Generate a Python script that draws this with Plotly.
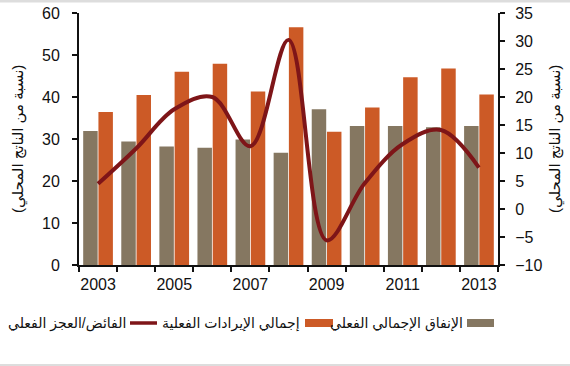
import plotly.graph_objects as go

years = [2003, 2004, 2005, 2006, 2007, 2008, 2009, 2010, 2011, 2012, 2013]
spending = [31.9, 29.4, 28.2, 27.9, 29.9, 26.7, 37.1, 33.1, 33.1, 32.8, 33.1]
revenue = [36.4, 40.5, 46.0, 47.9, 41.3, 56.6, 31.7, 37.5, 44.7, 46.8, 40.6]
balance = [4.5, 10.8, 17.8, 20.0, 11.2, 30.2, -5.6, 4.6, 11.6, 14.1, 7.4]

name_spend = "الإنفاق الإجمالي الفعلي"
name_rev = "إجمالي الإيرادات الفعلية"
name_bal = "الفائض/العجز الفعلي"
axis_title = "(نسبة من الناتج المحلي)"

C_SPEND = "#857761"
C_REV = "#CC5A26"
C_BAL = "#7E1518"
FONT = "Arial, Liberation Sans, DejaVu Sans, sans-serif"

W, H = 570, 366
ML, MR, MT, MB = 79, 72, 13, 101

fig = go.Figure()
fig.add_trace(go.Bar(x=years, y=spending, name=name_spend, marker_color=C_SPEND,
                     marker_line_width=0))
fig.add_trace(go.Bar(x=years, y=revenue, name=name_rev, marker_color=C_REV,
                     marker_line_width=0))
fig.add_trace(go.Scatter(x=years, y=balance, name=name_bal, mode="lines",
                         line=dict(color=C_BAL, width=4, shape="spline", smoothing=1.0),
                         yaxis="y2"))

pw = W - ML - MR
ph = H - MT - MB


def px_x(px):
    return (px - ML) / pw


def px_y(py):
    return (H - MB - py) / ph


shapes = []
annotations = []
# legend (RTL: symbol to the right of its text)
leg_y = 323
items = [
    (name_bal, "line", C_BAL, 130, 157, 128),
    (name_rev, "box", C_REV, 305, 333, 302),
    (name_spend, "box", C_SPEND, 467, 494, 465),
]
for text, kind, col, x0, x1, tx in items:
    if kind == "line":
        shapes.append(dict(type="line", xref="paper", yref="paper",
                           x0=px_x(x0), x1=px_x(x1), y0=px_y(leg_y), y1=px_y(leg_y),
                           line=dict(color=col, width=3.5)))
    else:
        shapes.append(dict(type="rect", xref="paper", yref="paper",
                           x0=px_x(x0), x1=px_x(x1), y0=px_y(leg_y - 4), y1=px_y(leg_y + 4),
                           fillcolor=col, line=dict(width=0)))
    annotations.append(dict(text=text, xref="paper", yref="paper", x=px_x(tx), y=px_y(leg_y),
                            xanchor="right", yanchor="middle", showarrow=False,
                            font=dict(family=FONT, size=14, color="#111")))

# axis titles
for cx in (18, 555):
    annotations.append(dict(text=axis_title, xref="paper", yref="paper",
                            x=px_x(cx), y=0.5, xanchor="center", yanchor="middle",
                            textangle=-90, showarrow=False,
                            font=dict(family=FONT, size=15, color="#111")))

# light frame lines at top/bottom of picture
shapes.append(dict(type="line", xref="paper", yref="paper", x0=px_x(0), x1=px_x(W),
                   y0=px_y(1), y1=px_y(1), line=dict(color="#dddddd", width=3)))
shapes.append(dict(type="line", xref="paper", yref="paper", x0=px_x(0), x1=px_x(W),
                   y0=px_y(365), y1=px_y(365), line=dict(color="#dddddd", width=2)))

fig.update_layout(
    width=W, height=H,
    margin=dict(l=ML, r=MR, t=MT, b=MB),
    paper_bgcolor="white", plot_bgcolor="white",
    barmode="group", bargap=0.2, bargroupgap=0.05,
    showlegend=False,
    font=dict(family=FONT, size=16, color="#111"),
    xaxis=dict(
        range=[2002.5, 2013.5], tickmode="linear", tick0=2003, dtick=2,
        ticks="", showline=True, linecolor="#111", linewidth=2,
        showgrid=False, zeroline=False, automargin=False,
        tickfont=dict(size=16), ticklabelstandoff=4,
        minor=dict(ticks="outside", tickmode="linear", tick0=2002.5, dtick=1,
                   ticklen=5, tickwidth=2, tickcolor="#111", showgrid=False),
    ),
    yaxis=dict(
        range=[0, 60], tickmode="linear", tick0=0, dtick=10,
        ticks="outside", ticklen=5, tickwidth=2, tickcolor="#111",
        showline=True, linecolor="#111", linewidth=2,
        showgrid=False, zeroline=False, automargin=False,
        tickfont=dict(size=16), ticklabelstandoff=9,
    ),
    yaxis2=dict(
        range=[-10, 35], tickmode="linear", tick0=-10, dtick=5,
        overlaying="y", side="right",
        ticks="outside", ticklen=5, tickwidth=2, tickcolor="#111",
        showline=True, linecolor="#111", linewidth=2,
        showgrid=False, zeroline=False, automargin=False,
        tickfont=dict(size=16), ticklabelstandoff=7,
    ),
    shapes=shapes,
    annotations=annotations,
)

fig.write_html("out.html", config={"displayModeBar": False},
               post_script="document.body.style.margin='0';")
